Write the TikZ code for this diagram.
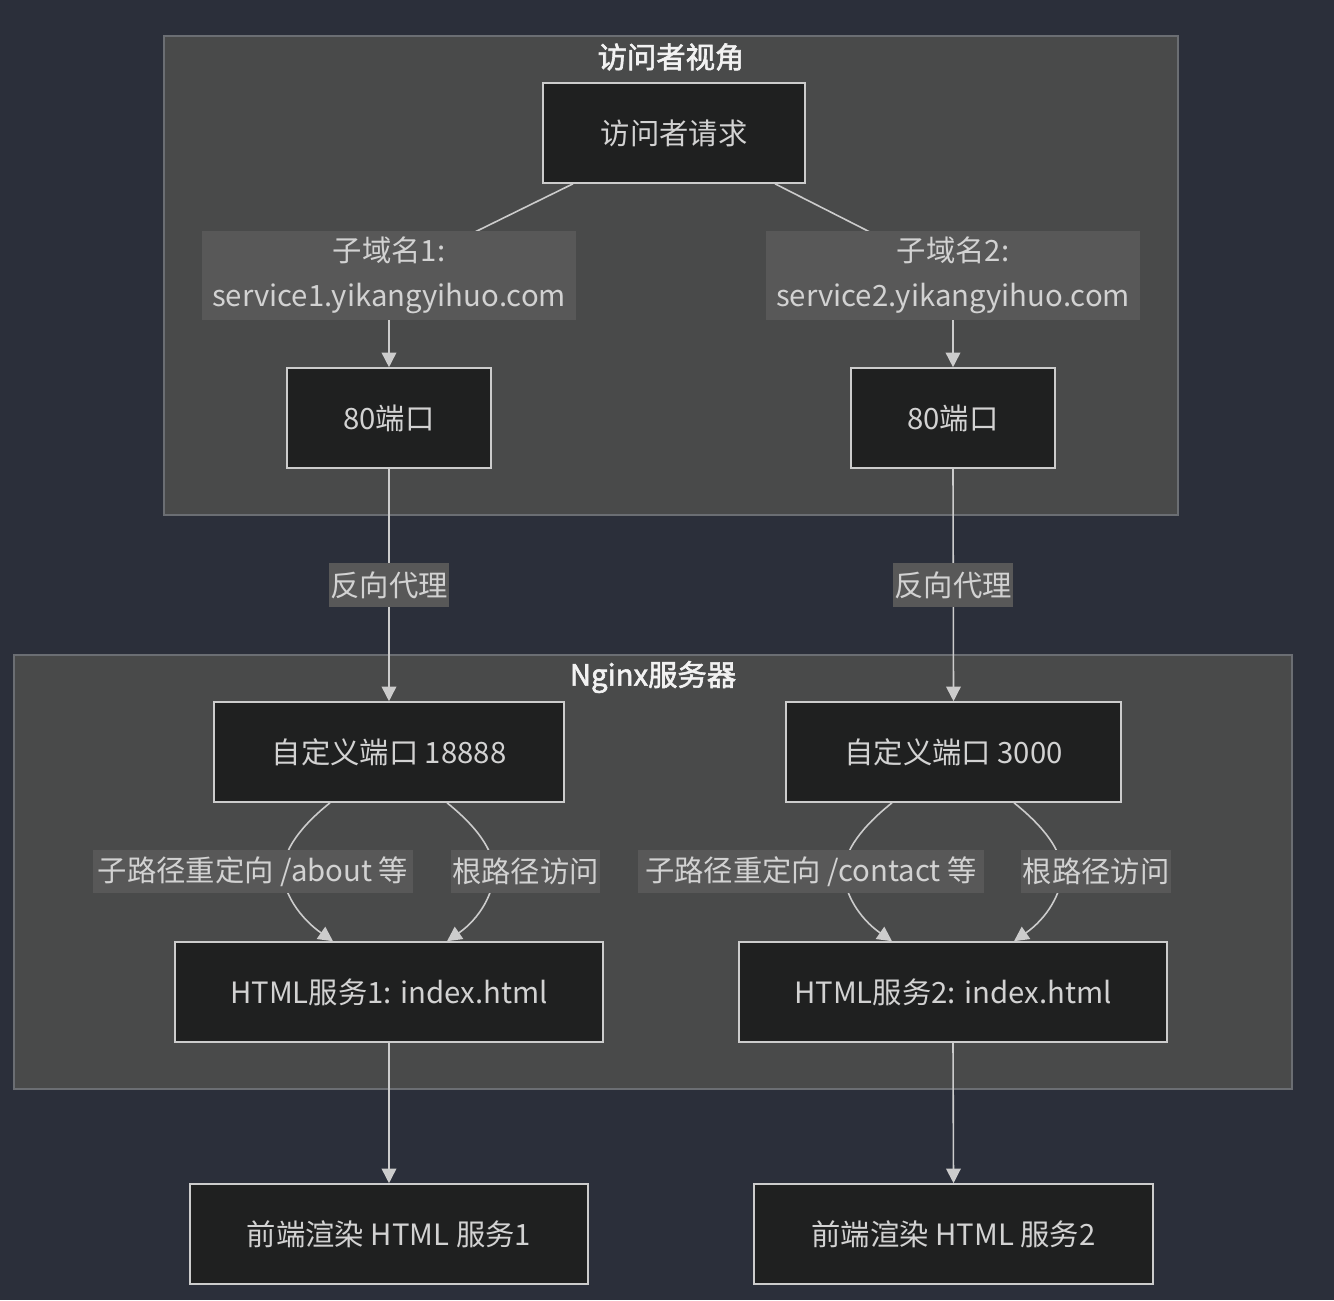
\documentclass[tikz,border=0pt]{standalone}
\usepackage{fontspec}
\setmainfont{Noto Sans CJK SC}
\newfontfamily\titlefont[AutoFakeBold=2]{Noto Sans CJK SC}
\usetikzlibrary{arrows.meta,calc}
\definecolor{bgc}{HTML}{2B2F3A}
\definecolor{clfill}{HTML}{494A4A}
\definecolor{cldraw}{HTML}{6B6E73}
\definecolor{nfill}{HTML}{1F2020}
\definecolor{ndraw}{HTML}{CCCCCC}
\definecolor{lblfill}{HTML}{585858}
\definecolor{txt}{HTML}{D2D2D2}
\definecolor{ttl}{HTML}{F2F2F2}
\begin{document}
\begin{tikzpicture}[x=0.75pt,y=-0.75pt,
  box/.style={draw=ndraw, fill=nfill, line width=1.2pt, text=txt,
    font=\fontsize{22pt}{26pt}\selectfont, minimum height=75pt, inner sep=0pt},
  lbl/.style={fill=lblfill, text=txt, font=\fontsize{22pt}{33.75pt}\selectfont,
    inner sep=0pt, minimum height=32.5pt},
  arr/.style={draw=ndraw, line width=1.2pt, -{Triangle[length=11pt,width=11pt]}},
  cluster/.style={draw=cldraw, fill=clfill, line width=1pt},
  title/.style={text=ttl, font=\titlefont\bfseries\fontsize{22pt}{26pt}\selectfont}]

\useasboundingbox (0,0) rectangle (1334,1300);
\fill[bgc] (0,0) rectangle (1334,1300);

% clusters
\draw[cluster] (164,36) rectangle (1178,515);
\draw[cluster] (14,655) rectangle (1292,1089);
\node[title] (t1) at (671,57) {访问者视角};
\node[title] (t2) at (653,677) {Nginx服务器};

% nodes
\node[box, minimum width=196.5pt] (q) at (674,133) {访问者请求};
\node[box, minimum width=153pt] (p1) at (389,418) {80端口};
\node[box, minimum width=153pt] (p2) at (953,418) {80端口};
\node[box, minimum width=262.5pt] (c1) at (389,752) {自定义端口 18888};
\node[box, minimum width=251.25pt] (c2) at (953.5,752) {自定义端口 3000};
\node[box, minimum width=321pt] (h1) at (389,992) {HTML服务1: index.html};
\node[box, minimum width=321pt] (h2) at (953,992) {HTML服务2: index.html};
\node[box, minimum width=298.5pt] (f1) at (389,1234) {前端渲染 HTML 服务1};
\node[box, minimum width=299pt] (f2) at (953.5,1234) {前端渲染 HTML 服务2};

% edges
\draw[arr] ($(q.south)+(-101,0)$) -- ($(p1.north)+(0,-93)$) -- (p1.north);
\draw[arr] ($(q.south)+(101,0)$) -- ($(p2.north)+(0,-93)$) -- (p2.north);
\draw[arr] (p1.south) -- (c1.north);
\draw[arr] (p2.south) -- (c2.north);

\draw[arr] ($(c1.south)+(-59,0)$) .. controls +(-30,24) and +(0,-21) .. ($(c1.south)+(-106,69)$)
  .. controls +(0,21) and +(-33,-23) .. ($(h1.north)+(-56,0)$);
\draw[arr] ($(c1.south)+(58,0)$) .. controls +(30,24) and +(0,-21) .. ($(c1.south)+(105,69)$)
  .. controls +(0,21) and +(33,-23) .. ($(h1.north)+(58,0)$);
\draw[arr] ($(c2.south)+(-61.5,0)$) .. controls +(-30,24) and +(0,-21) .. ($(c2.south)+(-109.5,69)$)
  .. controls +(0,21) and +(-33,-23) .. ($(h2.north)+(-61,0)$);
\draw[arr] ($(c2.south)+(60.5,0)$) .. controls +(30,24) and +(0,-21) .. ($(c2.south)+(108.5,69)$)
  .. controls +(0,21) and +(33,-23) .. ($(h2.north)+(61,0)$);

\draw[arr] (h1.south) -- (f1.north);
\draw[arr] (h2.south) -- (f2.north);

% edge labels
\node[lbl, minimum width=280.5pt, minimum height=66.75pt, align=center] (l1) at (389,275.5)
  {子域名1:\\service1.yikangyihuo.com};
\node[lbl, minimum width=280.5pt, minimum height=66.75pt, align=center] (l2) at (953,275.5)
  {子域名2:\\service2.yikangyihuo.com};
\node[lbl, minimum width=90pt] (r1) at (389,585) {反向代理};
\node[lbl, minimum width=90pt] (r2) at (953,585) {反向代理};
\node[lbl, minimum width=240pt] (a1) at (253,871.5) {子路径重定向 /about 等};
\node[lbl, minimum width=111.75pt] (b1) at (525.5,871.5) {根路径访问};
\node[lbl, minimum width=259.5pt] (a2) at (811,871.5) {子路径重定向 /contact 等};
\node[lbl, minimum width=112.5pt] (b2) at (1096,871.5) {根路径访问};
\end{tikzpicture}
\end{document}
